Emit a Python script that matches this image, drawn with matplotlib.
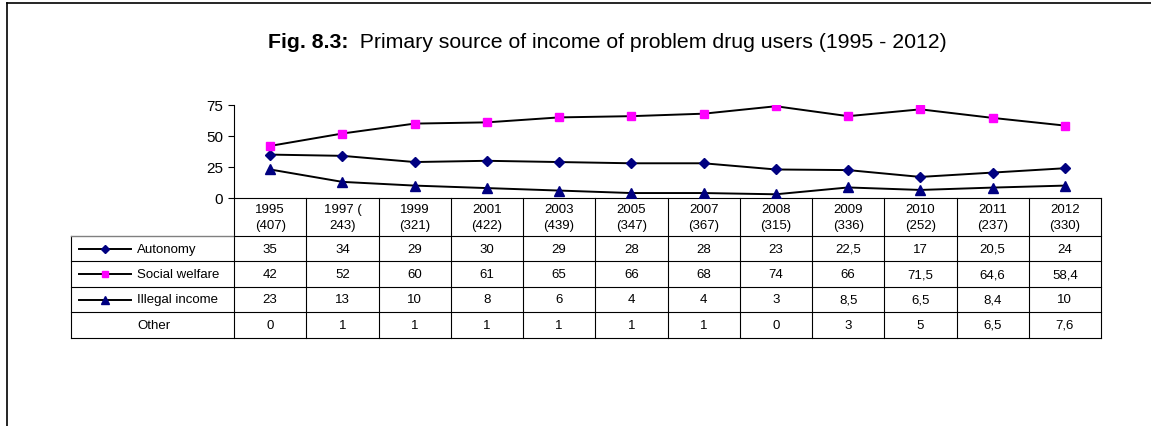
import numpy as np
import matplotlib
matplotlib.use("Agg")
import matplotlib.pyplot as plt
from matplotlib.lines import Line2D

plt.rcParams['font.family'] = ['Liberation Sans', 'DejaVu Sans']

W, H = 1151, 427

# column headers (year + number of cases, kept as printed)
HEADERS = ["1995\n(407)", "1997 (\n243)", "1999\n(321)", "2001\n(422)",
           "2003\n(439)", "2005\n(347)", "2007\n(367)", "2008\n(315)",
           "2009\n(336)", "2010\n(252)", "2011\n(237)", "2012\n(330)"]

SERIES = ["Autonomy", "Social welfare", "Illegal income", "Other"]

autonomy = [35, 34, 29, 30, 29, 28, 28, 23, 22.5, 17, 20.5, 24]
social_welfare = [42, 52, 60, 61, 65, 66, 68, 74, 66, 71.5, 64.6, 58.4]
illegal_income = [23, 13, 10, 8, 6, 4, 4, 3, 8.5, 6.5, 8.4, 10]
other = [0, 1, 1, 1, 1, 1, 1, 0, 3, 5, 6.5, 7.6]

Y_TICKS = [0, 25, 50, 75]

# marker style per plotted series (Other is table only)
STYLES = {
    "Autonomy": dict(marker='D', color='#000080', ms=5.5, sms=4.5),
    "Social welfare": dict(marker='s', color='#ff00ff', ms=6, sms=5),
    "Illegal income": dict(marker='^', color='#000080', ms=7, sms=5.5),
}

TITLE_BOLD = "Fig. 8.3:"
TITLE_REST = "  Primary source of income of problem drug users (1995 - 2012)"


def fmt(v):
    return f"{v:g}".replace('.', ',')


def px(x0, y0, x1, y1):
    # pixel box (top-left origin) -> figure fraction rect
    return [x0 / W, (H - y1) / H, (x1 - x0) / W, (y1 - y0) / H]


def main():
    values = {"Autonomy": autonomy, "Social welfare": social_welfare,
              "Illegal income": illegal_income, "Other": other}
    n = len(HEADERS)
    xs = np.arange(n)

    fig = plt.figure(figsize=(W / 100, H / 100), dpi=100)

    # outer frame: only top and left edges are visible
    fig.add_artist(Line2D([7 / W, 7 / W], [0, 1 - 4 / H], transform=fig.transFigure,
                          color='black', lw=1.2))
    fig.add_artist(Line2D([7 / W, 1], [1 - 4 / H, 1 - 4 / H], transform=fig.transFigure,
                          color='black', lw=1.2))

    # line chart
    ax = fig.add_axes(px(234, 106, 1101, 199))
    ax.patch.set_alpha(0)
    for name, st in STYLES.items():
        ax.plot(xs, values[name], color='black', lw=1.4, marker=st['marker'],
                ms=st['ms'], mfc=st['color'], mec=st['color'], zorder=3)
    ax.set_xlim(-0.5, n - 0.5)
    ax.set_ylim(0, 75)
    ax.set_yticks(Y_TICKS)
    ax.set_xticks([])
    ax.tick_params(axis='y', labelsize=11, length=4, width=0.8, pad=4)
    for s in ('top', 'right'):
        ax.spines[s].set_visible(False)
    ax.spines['left'].set_linewidth(0.8)
    ax.spines['bottom'].set_linewidth(0.8)

    # title: bold prefix followed by regular text
    t1 = fig.text(268 / W, 1 - 43 / H, TITLE_BOLD, fontsize=15.3, fontweight='bold',
                  va='center', ha='left')
    ax.annotate(TITLE_REST, xy=(1, 0.5), xycoords=t1, va='center', ha='left',
                fontsize=15.3, annotation_clip=False)

    # data table underneath
    row_h = 25.4
    hdr = 38 / row_h
    nrows = len(SERIES)
    tab = fig.add_axes(px(71, 199, 1101, 199 + 38 + nrows * row_h))
    unit = (1101 - 234) / n
    lab_w = (234 - 71) / unit
    tab.set_xlim(-0.5 - lab_w, n - 0.5)
    tab.set_ylim(hdr + nrows, 0)
    tab.axis('off')
    bottom = hdr + nrows
    left = -0.5 - lab_w
    lk = dict(color='black', lw=0.8, clip_on=False)
    for i in range(n + 1):
        tab.plot([i - 0.5, i - 0.5], [0, bottom], **lk)
    tab.plot([left, left], [hdr, bottom], **lk)
    tab.plot([left, -0.5], [hdr, hdr], color='#808080', lw=1, clip_on=False)
    for r in range(1, nrows + 1):
        tab.plot([left, n - 0.5], [hdr + r, hdr + r], **lk)
    tab.plot([-0.5, n - 0.5], [hdr, hdr], **lk)

    for i, h in enumerate(HEADERS):
        tab.text(i, hdr / 2, h, ha='center', va='center', fontsize=9.5, linespacing=1.4)

    for r, name in enumerate(SERIES):
        yc = hdr + r + 0.5
        if name in STYLES:
            st = STYLES[name]
            tab.plot([left + 8 / unit, left + 60 / unit], [yc, yc], color='black', lw=1.4,
                     clip_on=False)
            tab.plot([left + 34 / unit], [yc], marker=st['marker'], ms=st['sms'],
                     mfc=st['color'], mec=st['color'], clip_on=False)
        tab.text(left + 66 / unit, yc, name, ha='left', va='center', fontsize=9.5)
        for i, v in enumerate(values[name]):
            tab.text(i, yc, fmt(v), ha='center', va='center', fontsize=9.5)

    fig.savefig('out.png', dpi=100, facecolor='white')


if __name__ == '__main__':
    main()
